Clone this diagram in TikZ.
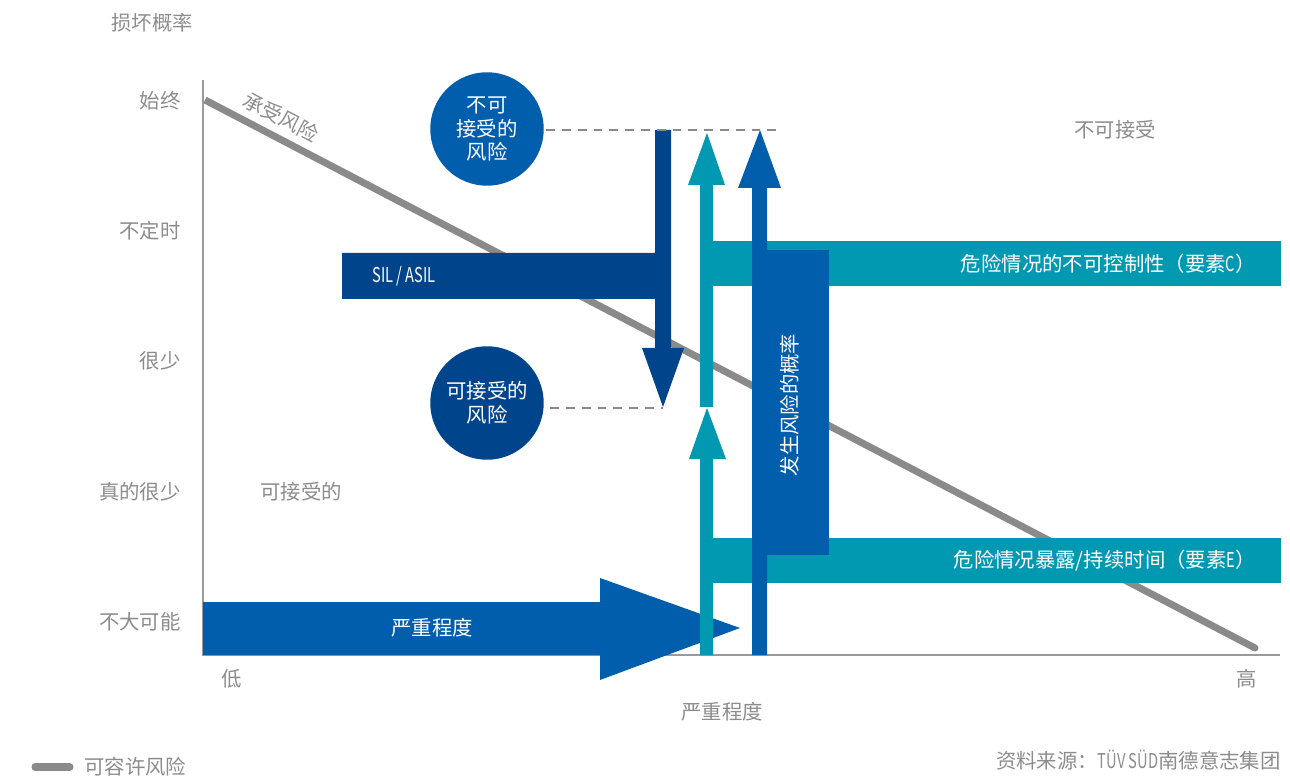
\documentclass[tikz,border=0pt]{standalone}
\usepackage{fontspec}
\setmainfont{Noto Sans CJK SC}
\definecolor{blueM}{HTML}{005EAD}
\definecolor{blueD}{HTML}{00458C}
\definecolor{tealc}{HTML}{0099B1}
\definecolor{linegray}{HTML}{8A8A8A}
\definecolor{axisgray}{HTML}{9A9A9A}
\definecolor{txtgray}{HTML}{8C8C8C}
\newcommand\fs{\fontsize{11.6}{13.6}\selectfont}
\newcommand\narrowtxt[1]{\scalebox{0.72}[1]{#1}}
\begin{document}
\begin{tikzpicture}[x=0.02cm,y=-0.02cm,
  lbl/.style={text=txtgray,font=\fs,inner sep=0pt},
  wlbl/.style={text=white,font=\fs,inner sep=0pt},
  riskcircle/.style={circle,minimum size=2.27cm,inner sep=0pt,text=white,font=\fs,align=center},
  dashline/.style={linegray,line width=0.8pt,dash pattern=on 5pt off 4pt}]
\useasboundingbox (0,0) rectangle (1290,776);
% axes
\draw[axisgray,line width=1.1pt] (203,80) -- (203,655) -- (1280,655);
% tolerable risk line
\draw[linegray,line width=4pt] (205,100) -- (1255,648);
\fill[linegray] (1255,648) circle (2pt);
% severity arrow
\fill[blueM] (203,602) -- (600,602) -- (600,578) -- (740,628) -- (600,680) -- (600,655) -- (203,655) -- cycle;
% SIL / ASIL arrow
\fill[blueD] (342,253) -- (655,253) -- (655,130) -- (671,130) -- (671,348) -- (684,348) -- (663,407) -- (642,348) -- (655,348) -- (655,299) -- (342,299) -- cycle;
% teal arrows and bars
\fill[tealc] (700,407) -- (700,185) -- (688,185) -- (707,133) -- (725,185) -- (713,185) -- (713,407) -- cycle;
\fill[tealc] (700,655) -- (700,459) -- (689,459) -- (707,408) -- (726,459) -- (713,459) -- (713,655) -- cycle;
\fill[tealc] (713,241) rectangle (1281,286);
\fill[tealc] (713,538) rectangle (1281,583);
% probability arrow and box
\fill[blueM] (752,655) -- (752,188) -- (738,188) -- (760,130) -- (781,188) -- (767,188) -- (767,655) -- cycle;
\fill[blueM] (752,250) rectangle (829,555);
% circles
\node[riskcircle,fill=blueM] (unacc) at (487,129) {不可\\接受的\\风险};
\node[riskcircle,fill=blueD] (acc) at (487,403) {可接受的\\风险};
\coordinate (unaccend) at (781,130);
\coordinate (accend) at (663,408);
\draw[dashline] (unacc.east |- 0,130) ++(2,0) -- (unaccend);
\draw[dashline] (acc.east |- 0,408) ++(6,0) -- (accend);
% axis labels
\node[lbl] (ytitle) at (152,23) {损坏概率};
\node[lbl,anchor=east] (y1) at (181,101) {始终};
\node[lbl,anchor=east] (y2) at (181,231) {不定时};
\node[lbl,anchor=east] (y3) at (181,361) {很少};
\node[lbl,anchor=east] (y4) at (181,492) {真的很少};
\node[lbl,anchor=east] (y5) at (181,622) {不大可能};
\node[lbl] (xlow) at (232,679) {低};
\node[lbl] (xhigh) at (1247,679) {高};
\node[lbl] (xtitle) at (722,712) {严重程度};
\node[lbl,rotate=-27.6] (risklbl) at (281,117) {承受风险};
\node[lbl] (unacclbl) at (1115,130) {不可接受};
\node[lbl] (acclbl) at (301,492) {可接受的};
% white labels
\node[wlbl] (sil) at (404,276) {\narrowtxt{SIL / ASIL}};
\node[wlbl] (sev) at (432,628) {严重程度};
\node[wlbl,anchor=east] (ctrl) at (1256,264) {危险情况的不可控制性（要素\narrowtxt{C}）};
\node[wlbl,anchor=east] (expo) at (1256,561) {危险情况暴露/持续时间（要素\narrowtxt{E}）};
\node[wlbl,rotate=90] (prob) at (790,405) {发生风险的概率};
% legend and source
\coordinate (legA) at (35,767);
\coordinate (legB) at (70,767);
\draw[linegray,line width=4pt,line cap=round] (legA) -- (legB);
\node[lbl,anchor=west] (legtxt) at (84,767) {可容许风险};
\node[lbl,anchor=east] (src) at (1281,760) {资料来源：\narrowtxt{TÜV SÜD}南德意志集团};
\end{tikzpicture}
\end{document}
